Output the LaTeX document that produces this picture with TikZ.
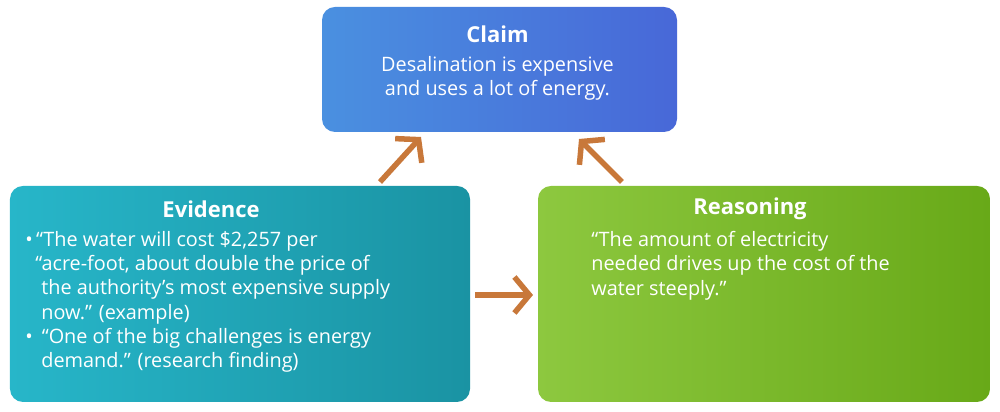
\documentclass[tikz,border=0pt]{standalone}
\usepackage{fontspec}
\setmainfont{Open Sans}
\usetikzlibrary{arrows.meta,positioning,shadings}
\definecolor{claimA}{HTML}{4A90E0}
\definecolor{claimB}{HTML}{4868D8}
\definecolor{evidA}{HTML}{27B6C9}
\definecolor{evidB}{HTML}{1A93A3}
\definecolor{reasA}{HTML}{8DC83F}
\definecolor{reasB}{HTML}{68A918}
\definecolor{arrowc}{HTML}{C8783A}
\tikzset{
  card/.style={rounded corners=0.26cm, draw=none},
  head/.style={text=white, font=\bfseries\fontsize{12.5}{15}\selectfont},
  body/.style={text=white, font=\fontsize{11.3}{13.8}\selectfont, align=left, anchor=north west, inner sep=0pt},
  link/.style={arrowc, line width=0.11cm, -{Straight Barb[length=0.3cm, width=0.72cm]}}
}
\begin{document}
\begin{tikzpicture}
\useasboundingbox (0,0) rectangle (20,8.24);
% boxes
\shade[card, left color=claimA, right color=claimB] (6.44,5.6) rectangle (13.54,8.1);
\shade[card, left color=evidA, right color=evidB] (0.2,0.2) rectangle (9.4,4.52);
\shade[card, left color=reasA, right color=reasB] (10.76,0.2) rectangle (19.8,4.52);
% headings
\node[head] (claimhd) at (9.95,7.55) {Claim};
\node[head] (evidhd) at (4.22,4.06) {Evidence};
\node[head] (reashd) at (15.0,4.06) {Reasoning};
% texts
\node[text=white, font=\fontsize{11.3}{13.8}\selectfont, align=center, below=0.02cm of claimhd] (claimtx)
  {Desalination is expensive\\and uses a lot of energy.};
\node[body] (evidtx) at (0.5,3.62) {%
  •\,“The water will cost \$2,257 per\\
  \hspace*{0.2cm}“acre-foot, about double the price of\\
  \hspace*{0.32cm}the authority’s most expensive supply\\
  \hspace*{0.32cm}now.” (example)\\
  •\hspace*{0.18cm}“One of the big challenges is energy\\
  \hspace*{0.32cm}demand.” (research finding)};
\node[body] (reastx) at (11.82,3.62) {%
  “The amount of electricity\\
  needed drives up the cost of the\\
  water steeply.”};
% connectors
\coordinate (e1) at (7.6,4.6);
\coordinate (c1) at (8.42,5.5);
\coordinate (r1) at (12.44,4.6);
\coordinate (c2) at (11.58,5.46);
\coordinate (e2) at (9.5,2.34);
\coordinate (r2) at (10.66,2.34);
\draw[link] (e1) -- (c1);
\draw[link] (r1) -- (c2);
\draw[link] (e2) -- (r2);
\end{tikzpicture}
\end{document}
